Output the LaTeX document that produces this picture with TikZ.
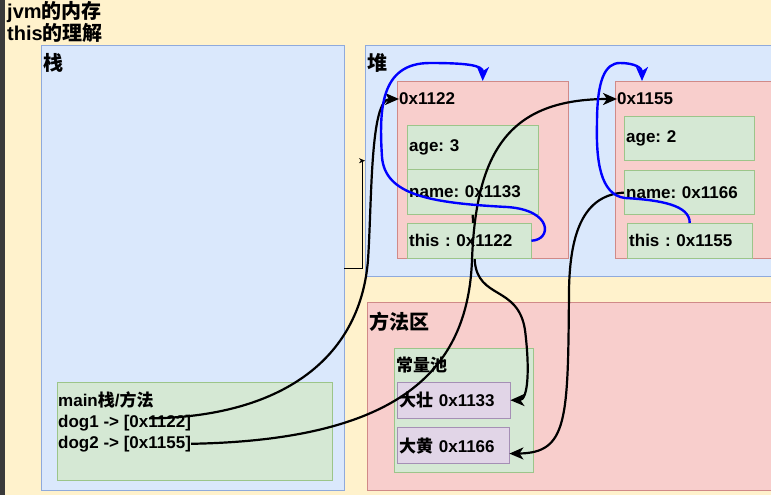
\documentclass[tikz,border=0pt]{standalone}
\usepackage{fontspec}
\setmainfont{Liberation Sans}
\newfontfamily\cjk{Noto Sans CJK SC}
\usetikzlibrary{arrows.meta,positioning}
\frenchspacing
\definecolor{paper}{HTML}{FFF2CC}
\definecolor{ruler}{HTML}{3A3A3A}
\definecolor{bluefill}{HTML}{DAE8FC}
\definecolor{blueline}{HTML}{8FAADC}
\definecolor{redfill}{HTML}{F8CECC}
\definecolor{redline}{HTML}{D08A88}
\definecolor{greenfill}{HTML}{D5E8D4}
\definecolor{greenline}{HTML}{9CC58A}
\definecolor{purplefill}{HTML}{E1D5E7}
\definecolor{purpleline}{HTML}{A58FB5}
\tikzstyle{region}=[rectangle,draw=blueline,fill=bluefill,thin,inner sep=0pt,anchor=north west]
\tikzstyle{object}=[rectangle,draw=redline,fill=redfill,thin,inner sep=0pt,anchor=north west]
\tikzstyle{field}=[rectangle,draw=greenline,fill=greenfill,thin,inner xsep=2pt,inner ysep=0pt,align=left]
\tikzstyle{constant}=[rectangle,draw=purpleline,fill=purplefill,thin,inner xsep=2pt,inner ysep=0pt,align=left]
\tikzstyle{heading}=[inner sep=0pt,anchor=west]
\tikzstyle{bigheading}=[heading,font=\bfseries\fontsize{20}{24}\selectfont]
\tikzstyle{words}=[inner xsep=0pt,inner ysep=1.5pt,text height=14pt,text depth=4pt,anchor=west]
\tikzstyle{pointer}=[line width=2.2pt,-{Stealth[length=14pt,width=12pt,inset=4pt]}]
\tikzstyle{selfref}=[line width=2.4pt,-{Stealth[length=14pt,width=12pt,inset=4pt]},draw=blue]

\begin{document}
\begin{tikzpicture}[x=1pt,y=-1pt,font=\bfseries\fontsize{17}{20}\selectfont]
    \clip (0,0) rectangle (771,495);
    \fill[paper] (0,0) rectangle (771,495);
    \fill[ruler] (0,0) rectangle (5,495);
    \node[anchor=north west, align=left, inner sep=0pt,
      font=\bfseries\fontsize{20}{22}\selectfont] (title) at (7,1)
      {jvm{\cjk 的内存}\\this{\cjk 的理解}};

    % memory areas
    \node[region, minimum width=303pt, minimum height=445pt] (stack) at (41,45) {};
    \node[region, minimum width=440pt, minimum height=231pt] (heap) at (365,45) {};
    \node[object, minimum width=440pt, minimum height=188pt] (methods) at (367,302) {};
    \node[bigheading] (stacklabel) at ([shift={(2,18)}]stack.north west) {\cjk 栈};
    \node[bigheading] (heaplabel) at ([shift={(2,18)}]heap.north west) {\cjk 堆};
    \node[bigheading] (methodlabel) at ([shift={(2,20)}]methods.north west) {\cjk 方法区};

    % objects in the heap
    \node[object, minimum width=171pt, minimum height=177pt] (dogone) at (397,81) {};
    \node[object, minimum width=171pt, minimum height=177pt] (dogtwo) at (615,81) {};
    \node[heading] (addrone) at ([shift={(2,18)}]dogone.north west) {0x1122};
    \node[heading] (addrtwo) at ([shift={(2,18)}]dogtwo.north west) {0x1155};
    \node[field, text width=127pt, minimum height=44pt, anchor=north west] (ageone) at (407,125) {age: 3};
    \node[field, text width=127pt, minimum height=45pt, below=0pt of ageone] (nameone) {name: 0x1133};
    \node[field, text width=126pt, minimum height=44pt, anchor=north west] (agetwo) at (624,116) {age: 2};
    \node[field, text width=126pt, minimum height=44pt, below=10pt of agetwo] (nametwo) {name: 0x1166};

    % constant pool
    \node[field, minimum width=139pt, minimum height=124pt, anchor=north west] (pool) at (394,348) {};
    \node[heading] (poollabel) at ([shift={(2,17)}]pool.north west) {\cjk 常量池};
    \node[constant, text width=109pt, minimum height=36pt, anchor=north west] (dazhuang) at (397,382) {{\cjk 大壮} 0x1133};
    \node[constant, text width=108pt, minimum height=36pt, below=9pt of dazhuang.south west, anchor=north west] (dahuang) {{\cjk 大黄} 0x1166};

    % main frame
    \node[field, minimum width=275pt, minimum height=98pt, anchor=north west] (mainframe) at (57,382) {};
    \node[words] (mainlabel) at (58,401) {main{\cjk 栈}/{\cjk 方法}};
    \node[words, below=0pt of mainlabel.south west, anchor=north west] (refone) {dog1 -> [0x1122]};
    \node[words, below=0pt of refone.south west, anchor=north west] (reftwo) {dog2 -> [0x1155]};

    % name field of the first object, runs under its this field
    \draw[pointer] (nameone.south) -- ++(2,46) .. controls (478,300) and (518,285) .. (525,330)
      .. controls (530,370) and (528,400) .. (dazhuang.east);

    \node[field, text width=120pt, minimum height=35pt, anchor=north west] (thisone) at (407,223) {this : 0x1122};
    \node[field, text width=121pt, minimum height=35pt, anchor=north west] (thistwo) at (627,223) {this : 0x1155};

    \draw[thin,-{Stealth[length=6pt,width=5pt]}] (stack.east) -- ++(18,0) |- (heap.west);

    \draw[pointer] ([shift={(-42,-4)}]refone.east) .. controls (280,417) and (360,360) .. (368,260)
      .. controls (372,200) and (370,99) .. (addrone.west);
    \draw[pointer] (reftwo.east) .. controls (400,440) and (468,370) .. (472,260)
      .. controls (476,150) and (510,99) .. (addrtwo.west);
    \draw[pointer] (nametwo.west) .. controls (585,195) and (570,230) .. (569,290)
      .. controls (568,420) and (568,453) .. ([yshift=-8pt]dahuang.east);

    % this points back to its own object
    \draw[selfref] (thisone.east) .. controls (552,240) and (553,210) .. (507,207)
      .. controls (430,203) and (385,195) .. (382,157)
      .. controls (379,110) and (380,63) .. (430,63)
      .. controls (465,63) and (483,65) .. (dogone.north);
    \draw[selfref] (thistwo.north) .. controls (690,205) and (660,200) .. (625,198)
      .. controls (600,195) and (596,160) .. (597,123)
      .. controls (597,80) and (605,63) .. (620,63)
      .. controls (635,63) and (642,68) .. ([xshift=27pt]dogtwo.north west);
\end{tikzpicture}
\end{document}
